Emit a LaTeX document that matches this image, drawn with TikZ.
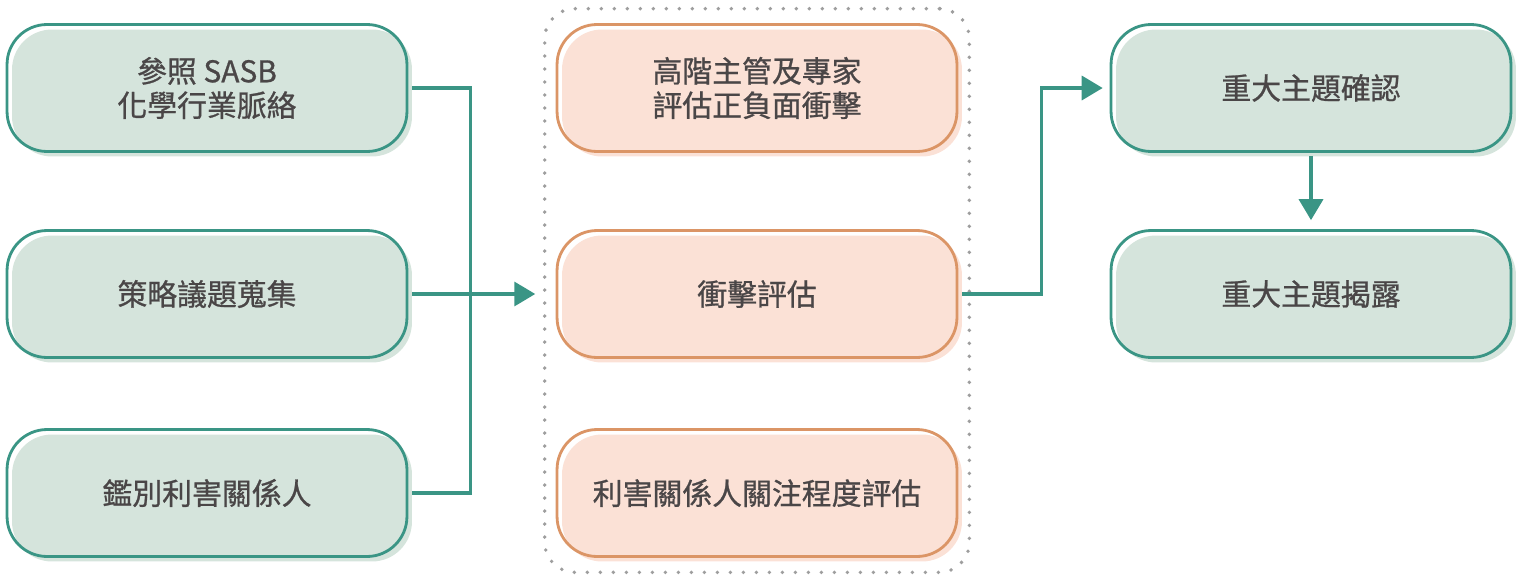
\documentclass[tikz,border=0pt]{standalone}
\usepackage{fontspec}
\setmainfont{Noto Sans CJK TC}
\newfontfamily\boxfamily{Noto Sans CJK TC}[FakeBold=0.8]
\usepackage{xcolor}
\usetikzlibrary{arrows.meta,positioning,calc,fit}
\definecolor{gline}{HTML}{3A9585}
\definecolor{gfill}{HTML}{D5E4DC}
\definecolor{oline}{HTML}{DB9566}
\definecolor{ofill}{HTML}{FBE1D6}
\definecolor{txt}{HTML}{4A4647}
\definecolor{dotgray}{HTML}{9E9E9E}

\begin{document}
\begin{tikzpicture}[x=0.02cm,y=-0.02cm,
	box/.style={rectangle, rounded corners=0.8cm, minimum width=8cm, minimum height=2.54cm, align=center, text=txt, font=\boxfamily\fontsize{17}{19.5}\selectfont, fill=white,
		postaction={fill=#1fill, transform canvas={xshift=0.1cm,yshift=-0.1cm}},
		postaction={draw=#1line, line width=1.6pt}},
	link/.style={gline, line width=2pt, shorten <=0.1cm},
	arrow/.style={link, -{Triangle[length=0.42cm,width=0.48cm]}},
	panel/.style={draw=dotgray, line width=2.2pt, line cap=round, dash pattern=on 0pt off 7.4pt, rounded corners=0.6cm, inner xsep=0.24cm, inner ysep=0.31cm}]
	\useasboundingbox (0,0) rectangle (1521,585);
	% left column
	\node[box=g] (L1) at (207,88) {參照 SASB\\化學行業脈絡};
	\node[box=g] (L2) at (207,294) {策略議題蒐集};
	\node[box=g] (L3) at (207,493) {鑑別利害關係人};
	% middle column
	\node[box=o] (M1) at (757,88) {高階主管及專家\\評估正負面衝擊};
	\node[box=o] (M2) at (757,294) {衝擊評估};
	\node[box=o] (M3) at (757,493) {利害關係人關注程度評估};
	\node[panel, fit=(M1)(M3)] (panel) {};
	% right column
	\node[box=g] (R1) at (1311,88) {重大主題確認};
	\node[box=g] (R2) at (1311,294) {重大主題揭露};
	% connectors
	\coordinate (hub) at ($(L2.east)+(63,0)$);
	\draw[link] (L1.east) -| (hub);
	\draw[link] (L3.east) -| (hub);
	\draw[arrow, shorten >=0.15cm] (L2.east) -- (L2.east -| panel.west);
	\draw[arrow, shorten >=0.16cm] (M2.east) -- ++(84,0) |- (R1.west);
	\draw[arrow, shorten <=0.08cm, shorten >=0.2cm] (R1.south) -- (R2.north);
\end{tikzpicture}
\end{document}
